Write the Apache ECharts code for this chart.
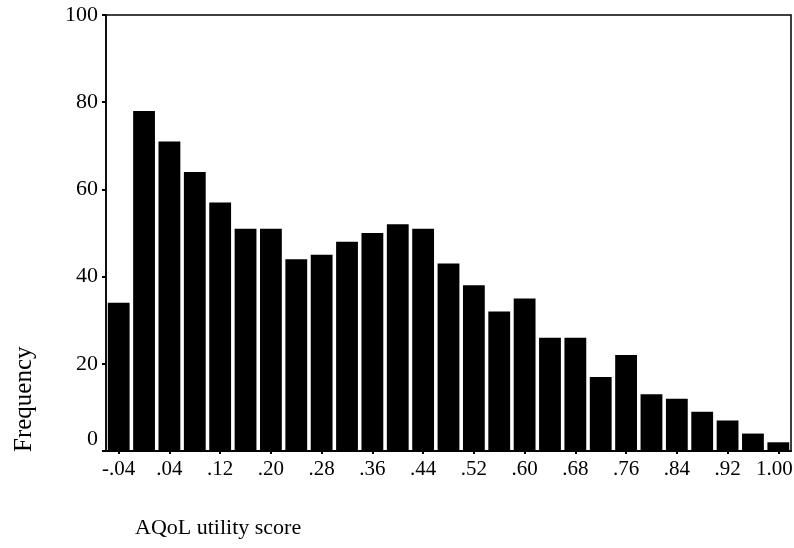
<!DOCTYPE html>
<html>
<head>
<meta charset="utf-8">
<script src="https://cdn.jsdelivr.net/npm/echarts@6/dist/echarts.min.js"></script>
<style>
html,body{margin:0;padding:0;background:#fff;}
#chart{width:794px;height:548px;}
</style>
</head>
<body>
<div id="chart"></div>
<script>
const categories = ['-.04','.00','.04','.08','.12','.16','.20','.24','.28','.32','.36','.40','.44','.48','.52','.56','.60','.64','.68','.72','.76','.80','.84','.88','.92','.96','1.00'];
const frequency = [34,78,71,64,57,51,51,44,45,48,50,52,51,43,38,32,35,26,26,17,22,13,12,9,7,4,2];
const yTicks = [0,20,40,60,80,100];
const xTitle = 'AQoL utility score';
const yTitle = 'Frequency';

const FONT = '"Liberation Serif", "Times New Roman", serif';
const chart = echarts.init(document.getElementById('chart'), null, {renderer:'canvas'});
chart.setOption({
  animation:false,
  backgroundColor:'#fff',
  grid:{left:106, right:3, top:15, bottom:97, outerBoundsMode:'none', containLabel:false, show:true, borderColor:'#000', borderWidth:1.5, backgroundColor:'transparent'},
  xAxis:{
    type:'category',
    data:categories,
    axisLine:{show:true, lineStyle:{color:'#000', width:2}},
    axisTick:{show:true, interval:1, alignWithLabel:true, length:3, lineStyle:{color:'#000', width:2}},
    axisLabel:{interval:1, color:'#000', fontFamily:FONT, fontSize:21, margin:8,
      formatter:function(v, i){ return i===categories.length-1 ? '{e|' + v + '}' : v; },
      rich:{e:{fontFamily:FONT, fontSize:21, color:'#000', padding:[0,8,0,0]}}
    }
  },
  yAxis:{
    type:'value',
    min:yTicks[0], max:yTicks[yTicks.length-1], interval:20,
    splitLine:{show:false},
    axisLine:{show:true, lineStyle:{color:'#000', width:1.5}},
    axisTick:{show:true, length:4, lineStyle:{color:'#000', width:2}},
    axisLabel:{color:'#000', fontFamily:FONT, fontSize:22, margin:8,
      formatter:function(v){ return v===0 ? '{z|0}' : String(v); },
      rich:{z:{fontFamily:FONT, fontSize:22, color:'#000', padding:[0,0,24,0]}}
    }
  },
  graphic:[
    {type:'text', left:135, top:517, style:{text:xTitle, fontFamily:FONT, fontSize:22, fill:'#000'}},
    {type:'text', x:12, y:452, rotation:Math.PI/2, style:{text:yTitle, fontFamily:FONT, fontSize:25, fill:'#000', textVerticalAlign:'top'}}
  ],
  series:[{
    type:'bar',
    data:frequency,
    barCategoryGap:'14%',
    itemStyle:{color:'#000'}
  }]
});
</script>
</body>
</html>
